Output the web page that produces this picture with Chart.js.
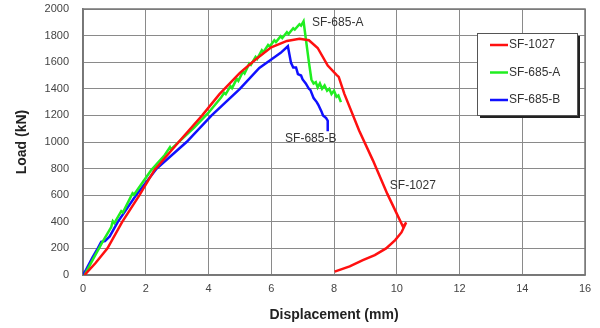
<!DOCTYPE html>
<html>
<head>
<meta charset="utf-8">
<script src="https://cdn.jsdelivr.net/npm/chart.js@4.4.1/dist/chart.umd.min.js"></script>
<style>
  html, body { margin: 0; padding: 0; background: #fff; }
  #wrap { width: 600px; height: 328px; }
</style>
</head>
<body>
<div id="wrap"><canvas id="loadChart" width="600" height="328"></canvas></div>
<script>
// series names
const seriesNames = ['SF-1027', 'SF-685-A', 'SF-685-B'];

// SF-1027
const sf1027Disp = [0.05, 0.4, 0.78, 1.25, 1.8, 2.28, 3.05, 3.8, 4.35, 5.0, 5.5, 6.0, 6.5, 6.9, 7.2, 7.48, 7.8, 8.08, 8.15,
  8.33, 8.8, 9.24, 9.7, 10.2, 10.3, 10.15, 9.95, 9.66, 9.3, 8.92, 8.5, 8.02];
const sf1027Load = [0, 90, 200, 400, 600, 790, 1000, 1200, 1360, 1520, 1620, 1712, 1760, 1777, 1765, 1707, 1575, 1505, 1490,
  1362, 1087, 862, 610, 362, 395, 320, 262, 200, 150, 112, 65, 25];

// SF-685-A
const sf685ADisp = [0.05, 0.3, 0.6, 0.9, 0.95, 1.0, 1.22, 1.27, 1.58, 1.63, 2.17, 2.6, 2.77, 2.8, 3.1, 3.55, 4.0, 4.4,
  4.5, 4.55, 4.7, 4.75, 4.9, 4.95, 5.1, 5.15, 5.3, 5.35, 5.5, 5.55, 5.7, 5.75, 5.9, 5.95, 6.1, 6.15, 6.3, 6.35,
  6.5, 6.55, 6.7, 6.75, 6.9, 6.95, 7.03, 7.1, 7.2, 7.28, 7.35, 7.42, 7.48, 7.55, 7.62, 7.7, 7.78, 7.85, 7.92,
  8.0, 8.08, 8.14, 8.22];
const sf685ALoad = [0, 110, 240, 360, 405, 390, 480, 470, 615, 605, 787, 900, 960, 945, 1010, 1110, 1220, 1335,
  1370, 1360, 1420, 1405, 1475, 1460, 1530, 1515, 1590, 1580, 1640, 1625, 1690, 1675, 1730, 1718, 1765, 1752, 1795, 1782,
  1825, 1812, 1855, 1845, 1885, 1875, 1907, 1780, 1600, 1470, 1440, 1450, 1410, 1440, 1400, 1425, 1385, 1400, 1360,
  1385, 1340, 1350, 1300];

// SF-685-B
const sf685BDisp = [0, 0.1, 0.3, 0.47, 0.58, 0.7, 0.85, 1.11, 1.69, 2.35, 3.3, 4.1, 5.0, 5.62, 6.0, 6.3, 6.53,
  6.63, 6.7, 6.79, 6.85, 6.95, 7.0, 7.1, 7.2, 7.25, 7.35, 7.45, 7.5, 7.6, 7.65, 7.75, 7.8, 7.8];
const sf685BLoad = [0, 40, 130, 200, 250, 255, 290, 400, 600, 800, 1000, 1200, 1400, 1557, 1620, 1670, 1720,
  1595, 1560, 1560, 1510, 1500, 1470, 1440, 1400, 1390, 1330, 1300, 1280, 1230, 1200, 1180, 1160, 1080];

// axis ranges
const xRange = [0, 16, 2];
const yRange = [0, 2000, 200];

// text labels placed beside the curves (data coordinates)
const curveLabels = [
  { text: 'SF-685-A', x: 7.3, y: 1897 },
  { text: 'SF-685-B', x: 6.44, y: 1027 },
  { text: 'SF-1027', x: 9.78, y: 675 }
];

const colors = ['#ff1010', '#20ee20', '#1010ff'];

function toPoints(xs, ys) {
  return xs.map((x, i) => ({ x: x, y: ys[i] }));
}

const seriesData = [
  toPoints(sf1027Disp, sf1027Load),
  toPoints(sf685ADisp, sf685ALoad),
  toPoints(sf685BDisp, sf685BLoad)
];

// frame + annotations + boxed legend
const decor = {
  id: 'decor',
  beforeDatasetsDraw(chart) {
    const { ctx, chartArea: a } = chart;
    ctx.save();
    ctx.strokeStyle = '#777';
    ctx.lineWidth = 1.5;
    ctx.strokeRect(a.left, a.top, a.right - a.left, a.bottom - a.top);
    ctx.restore();
  },
  afterDatasetsDraw(chart) {
    const { ctx, scales } = chart;
    ctx.save();
    ctx.font = '12px "Liberation Sans", Arial, sans-serif';
    ctx.fillStyle = '#333';
    ctx.textBaseline = 'middle';
    ctx.textAlign = 'left';
    curveLabels.forEach(l => {
      ctx.fillText(l.text, scales.x.getPixelForValue(l.x), scales.y.getPixelForValue(l.y));
    });

    // legend box
    const bx = 477, by = 33, bw = 100, bh = 82;
    ctx.fillStyle = '#222';
    ctx.fillRect(bx + 3, by + 3, bw, bh);
    ctx.fillStyle = '#fff';
    ctx.fillRect(bx, by, bw, bh);
    ctx.strokeStyle = '#555';
    ctx.lineWidth = 1;
    ctx.strokeRect(bx + 0.5, by + 0.5, bw, bh);
    chart.data.datasets.forEach((ds, i) => {
      const yy = by + 12 + i * 27.5;
      ctx.strokeStyle = ds.borderColor;
      ctx.lineWidth = 2.5;
      ctx.beginPath();
      ctx.moveTo(bx + 13, yy);
      ctx.lineTo(bx + 31, yy);
      ctx.stroke();
      ctx.fillStyle = '#333';
      ctx.fillText(ds.label, bx + 32, yy);
    });
    ctx.restore();
  }
};

const ctx = document.getElementById('loadChart').getContext('2d');
new Chart(ctx, {
  type: 'scatter',
  data: {
    datasets: seriesNames.map((name, i) => ({
      label: name,
      data: seriesData[i],
      showLine: true,
      borderColor: colors[i],
      backgroundColor: colors[i],
      borderWidth: 2.5,
      pointRadius: 0,
      tension: 0
    }))
  },
  options: {
    responsive: false,
    animation: false,
    layout: { autoPadding: false, padding: { left: 0, top: 9, right: 15, bottom: 0 } },
    plugins: {
      legend: { display: false },
      tooltip: { enabled: false }
    },
    scales: {
      x: {
        type: 'linear',
        min: xRange[0],
        max: xRange[1],
        ticks: {
          stepSize: xRange[2],
          padding: 7,
          color: '#444',
          font: { family: '"Liberation Sans", Arial, sans-serif', size: 11 },
          callback: v => String(v)
        },
        grid: { color: '#8a8a8a', lineWidth: 1, drawTicks: false },
        border: { color: '#777', width: 1.5 },
        title: {
          display: true,
          text: 'Displacement (mm)',
          color: '#222',
          padding: { top: 0, bottom: 4 },
          font: { family: '"Liberation Sans", Arial, sans-serif', size: 14, weight: 'bold' }
        },
        afterFit(scale) {
          scale.height = 53;
          scale.paddingLeft = 0;
          scale.paddingRight = 0;
        }
      },
      y: {
        type: 'linear',
        min: yRange[0],
        max: yRange[1],
        ticks: {
          stepSize: yRange[2],
          padding: 14,
          color: '#444',
          font: { family: '"Liberation Sans", Arial, sans-serif', size: 11 },
          callback: v => String(v)
        },
        grid: { color: '#8a8a8a', lineWidth: 1, drawTicks: false },
        border: { color: '#777', width: 1.5 },
        title: {
          display: true,
          text: 'Load (kN)',
          color: '#222',
          padding: { top: 14, bottom: 0 },
          font: { family: '"Liberation Sans", Arial, sans-serif', size: 14, weight: 'bold' }
        },
        afterFit(scale) {
          scale.width = 83;
          scale.paddingTop = 0;
          scale.paddingBottom = 0;
        }
      }
    }
  },
  plugins: [decor]
});
</script>
</body>
</html>
